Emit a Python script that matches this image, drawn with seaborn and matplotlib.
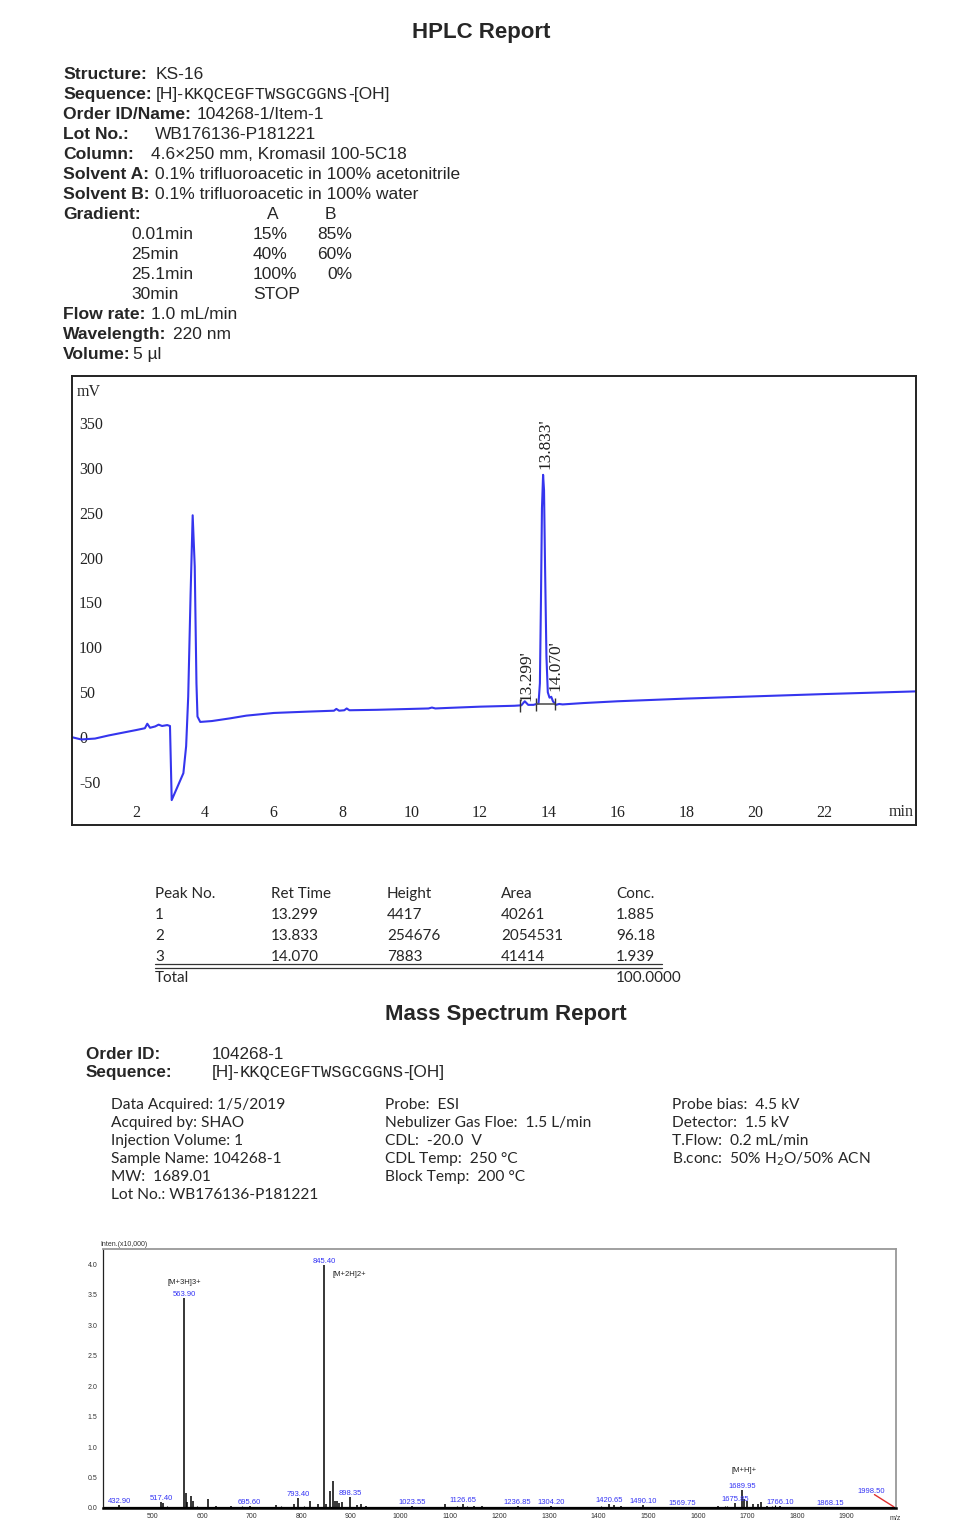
import numpy as np
import pandas as pd
import seaborn as sns
import matplotlib.pyplot as plt
from matplotlib.lines import Line2D
from matplotlib.ticker import MultipleLocator

W, H = 960, 1522

# ---- HPLC trace (min, mV)
chrom_time = [0.13, 0.40, 0.80, 1.20, 1.60, 2.00, 2.25, 2.32, 2.40, 2.55, 2.65, 2.75, 2.90, 2.98,
              3.03, 3.20, 3.37, 3.45, 3.51, 3.58, 3.64, 3.70, 3.75, 3.78, 3.86, 4.20, 4.73, 5.20,
              6.00, 7.00, 7.75, 7.82, 7.90, 8.05, 8.12, 8.20, 9.00, 10.00, 10.50, 10.60, 10.70,
              11.00, 12.00, 13.00, 13.20, 13.30, 13.40, 13.55, 13.70, 13.74, 13.77, 13.80, 13.833,
              13.86, 13.89, 13.93, 13.97, 14.02, 14.07, 14.12, 14.20, 14.30, 14.40, 15.00, 16.00,
              18.00, 20.00, 22.00, 24.68]
chrom_mv = [0.0, -2.5, -1.5, 2.0, 5.0, 8.0, 10.0, 15.0, 10.5, 12.0, 14.0, 12.5, 13.5, 12.5,
            -70.0, -55.0, -40.0, -10.0, 45.0, 160.0, 247.0, 190.0, 60.0, 23.0, 17.0, 18.0, 21.0, 24.0,
            27.0, 28.5, 29.5, 31.5, 29.5, 30.0, 32.0, 30.0, 30.5, 31.5, 32.0, 33.0, 32.0,
            32.5, 34.0, 35.0, 35.5, 40.0, 36.0, 36.0, 37.5, 60.0, 150.0, 255.0, 292.0,
            275.0, 190.0, 90.0, 50.0, 44.0, 45.0, 40.0, 36.0, 37.0, 36.5, 38.0, 40.0,
            43.0, 45.5, 48.0, 51.0]

peak_no = ["1", "2", "3"]
peak_rt = ["13.299", "13.833", "14.070"]
peak_height = ["4417", "254676", "7883"]
peak_area = ["40261", "2054531", "41414"]
peak_conc = ["1.885", "96.18", "1.939"]
total_conc = "100.0000"
peak_bounds = [13.15, 13.62, 14.18]

# ---- mass spectrum sticks (m/z, intensity x10,000)
ms_mz = [432.90, 517.40, 521.0, 563.90, 566.5, 569.0, 578.5, 581.0, 611.0, 628.0, 659.0, 695.60,
         749.0, 786.0, 793.40, 818.0, 833.0, 845.40, 849.0, 857.0, 864.5, 868.0, 872.0, 876.0,
         883.0, 898.35, 912.0, 920.0, 930.0, 1023.55, 1090.0, 1126.65, 1148.0, 1165.0, 1236.85,
         1304.20, 1420.65, 1432.0, 1445.0, 1490.10, 1569.75, 1640.0, 1675.85, 1689.95, 1693.0,
         1700.0, 1712.0, 1722.0, 1728.0, 1740.0, 1766.10, 1868.15, 1998.50]
ms_int = [0.05, 0.10, 0.08, 3.45, 0.24, 0.10, 0.20, 0.12, 0.14, 0.04, 0.04, 0.03,
          0.05, 0.06, 0.16, 0.12, 0.07, 3.98, 0.06, 0.28, 0.44, 0.12, 0.12, 0.08,
          0.10, 0.18, 0.05, 0.06, 0.04, 0.04, 0.06, 0.06, 0.04, 0.03, 0.03,
          0.03, 0.07, 0.05, 0.04, 0.05, 0.02, 0.04, 0.08, 0.30, 0.15,
          0.12, 0.06, 0.07, 0.10, 0.04, 0.04, 0.02, 0.02]
noise_mz = [410, 425, 445, 458, 470, 485, 498, 508, 530, 540, 550, 590, 600, 640, 670, 680, 710,
            725, 760, 775, 805, 940, 955, 970, 985, 1000, 1010, 1040, 1055, 1070, 1105, 1115,
            1135, 1180, 1195, 1210, 1250, 1265, 1280, 1320, 1340, 1360, 1375, 1390, 1405, 1460,
            1475, 1510, 1525, 1540, 1555, 1585, 1600, 1615, 1625, 1655, 1660, 1750, 1755, 1780,
            1795, 1810, 1825, 1840, 1855, 1880, 1895, 1910, 1925, 1940, 1955, 1970, 1985]
noise_int = [0.02, 0.015, 0.02, 0.015, 0.02, 0.015, 0.02, 0.015, 0.03, 0.02, 0.02, 0.03, 0.02,
             0.02, 0.02, 0.03, 0.02, 0.02, 0.03, 0.02, 0.03, 0.02, 0.02, 0.015, 0.02, 0.015,
             0.02, 0.015, 0.02, 0.02, 0.02, 0.03, 0.03, 0.02, 0.02, 0.015, 0.02, 0.015, 0.02,
             0.02, 0.015, 0.02, 0.02, 0.015, 0.03, 0.02, 0.02, 0.02, 0.015, 0.02, 0.015, 0.02,
             0.015, 0.02, 0.02, 0.03, 0.04, 0.03, 0.05, 0.02, 0.02, 0.015, 0.02, 0.015, 0.02,
             0.015, 0.02, 0.015, 0.02, 0.015, 0.02, 0.015, 0.02]
ms_labels = [432.90, 517.40, 563.90, 695.60, 793.40, 845.40, 898.35, 1023.55, 1126.65, 1236.85,
             1304.20, 1420.65, 1490.10, 1569.75, 1675.85, 1689.95, 1766.10, 1868.15, 1998.50]
ions = ["[M+3H]3+", "[M+2H]2+", "[M+H]+"]
ion_mz = [563.90, 845.40, 1689.95]

sns.set_style("white")
plt.rcParams["font.family"] = ["Liberation Sans", "DejaVu Sans"]
plt.rcParams["axes.unicode_minus"] = False

fig = plt.figure(figsize=(W / 100, H / 100), dpi=100)


def fx(x):
    return x / W


def fy(y):
    return 1 - y / H


def put(x, y, s, **kw):
    kw.setdefault("va", "baseline")
    return fig.text(fx(x), fy(y), s, **kw)


def put_run(x, y, parts):
    r = fig.canvas.get_renderer()
    for s, kw in parts:
        t = put(x, y, s, **kw)
        x += t.get_window_extent(renderer=r).width


BOLD = dict(fontsize=12.6, fontweight="bold")
REG = dict(fontsize=12.5)
SEQ = dict(fontsize=12.3, family="Liberation Mono")

# ---- HPLC header
put(481, 38, "HPLC Report", fontsize=16, fontweight="bold", ha="center")
rows = [("Structure:", 156, "KS-16"), ("Sequence:", None, None),
        ("Order ID/Name:", 197, "104268-1/Item-1"), ("Lot No.:", 155, "WB176136-P181221"),
        ("Column:", 151, "4.6×250 mm, Kromasil 100-5C18"),
        ("Solvent A:", 155, "0.1% trifluoroacetic in 100% acetonitrile"),
        ("Solvent B:", 155, "0.1% trifluoroacetic in 100% water"), ("Gradient:", None, "")]
for i, (lab, vx, val) in enumerate(rows):
    yb = 79 + 20 * i
    put(63, yb, lab, **BOLD)
    if vx is not None:
        put(vx, yb, val, **REG)
put_run(156, 99, [("[H]-", REG), ("KKQCEGFTWSGCGGNS", SEQ), ("-[OH]", REG)])
put(273, 219, "A", ha="center", **REG)
put(330, 219, "B", ha="center", **REG)
grad = [("0.01min", "15%", "85%"), ("25min", "40%", "60%"), ("25.1min", "100%", "0%"),
        ("30min", "STOP", "")]
for i, (t, a, b) in enumerate(grad):
    yb = 239 + 20 * i
    put(131, yb, t, **REG)
    put(253, yb, a, **REG)
    put(352, yb, b, ha="right", **REG)
for i, (lab, vx, val) in enumerate([("Flow rate:", 151, "1.0 mL/min"),
                                    ("Wavelength:", 173, "220 nm"), ("Volume:", 133, "5 µl")]):
    yb = 319 + 20 * i
    put(63, yb, lab, **BOLD)
    put(vx, yb, val, **REG)

# ---- chromatogram
ax = fig.add_axes([72 / W, 1 - 825 / H, 844 / W, 449 / H])
chrom = pd.DataFrame({"time": chrom_time, "mV": chrom_mv})
sns.lineplot(data=chrom, x="time", y="mV", ax=ax, color="#3535ee", lw=1.5,
             estimator=None, sort=False)
ax.set_xlim(0.13, 24.68)
ax.set_ylim(-97.7, 402)
ax.set_xlabel("")
ax.set_ylabel("")
ax.set_xticks(np.arange(2, 23, 2))
ax.set_yticks(np.arange(-50, 351, 50))
ax.tick_params(axis="both", direction="in", length=4, width=1, colors="#222222",
               labelsize=11.5)
ax.tick_params(axis="y", pad=-5)
ax.tick_params(axis="x", pad=-3)
for t in ax.get_yticklabels():
    t.set_ha("left")
    t.set_family("Liberation Serif")
for t in ax.get_xticklabels():
    t.set_va("bottom")
    t.set_family("Liberation Serif")
for s in ax.spines.values():
    s.set_color("#222222")
    s.set_linewidth(1.4)
ax.text(0.005, 0.965, "mV", transform=ax.transAxes, family="Liberation Serif", fontsize=11.5,
        va="center")
ax.text(0.997, 0.03, "min", transform=ax.transAxes, family="Liberation Serif", fontsize=11.5,
        ha="right", va="center")

rt_vals = [float(v) for v in peak_rt]
apex = np.interp(rt_vals, chrom_time, chrom_mv)
for rt, ap, dx, dy in zip(peak_rt, apex, [0.06, 0.08, 0.13], [0, 6, 6]):
    ax.text(float(rt) + dx, ap + dy, rt + "'", rotation=90, ha="center", va="bottom",
            family="Liberation Serif", fontsize=12.5, color="#222222")
base = np.interp(peak_bounds, chrom_time, chrom_mv)
ax.vlines(peak_bounds, base - 7, base + 7, color="#333333", lw=1)
ax.hlines(base[1], peak_bounds[1], peak_bounds[2], color="#555555", lw=1.2)

# ---- peak table
TAB = dict(fontsize=11, family="Lato")
cols_x = [155, 271, 387, 501, 616]
for x, h in zip(cols_x, ["Peak No.", "Ret Time", "Height", "Area", "Conc."]):
    put(x, 898, h, **TAB)
for i, row in enumerate(zip(peak_no, peak_rt, peak_height, peak_area, peak_conc)):
    for x, v in zip(cols_x, row):
        put(x, 919 + 21 * i, v, **TAB)
put(155, 982, "Total", **TAB)
put(616, 982, total_conc, **TAB)
for yl in (964.5, 967.5):
    fig.add_artist(Line2D([fx(155), fx(662)], [fy(yl), fy(yl)], color="#333333", lw=0.9))

# ---- mass spectrum header
put(506, 1020, "Mass Spectrum Report", fontsize=16, fontweight="bold", ha="center")
OB = dict(fontsize=12.3, fontweight="bold")
OR = dict(fontsize=12.3)
put(86, 1059, "Order ID:", **OB)
put(212, 1059, "104268-1", **OR)
put(86, 1077, "Sequence:", **OB)
put_run(212, 1077, [("[H]-", OR), ("KKQCEGFTWSGCGGNS", SEQ), ("-[OH]", OR)])
INFO = dict(fontsize=11.2, family="Lato")
info_cols = {
    111: ["Data Acquired: 1/5/2019", "Acquired by: SHAO", "Injection Volume: 1",
          "Sample Name: 104268-1", "MW:  1689.01", "Lot No.: WB176136-P181221"],
    385: ["Probe:  ESI", "Nebulizer Gas Floe:  1.5 L/min", "CDL:  -20.0  V",
          "CDL Temp:  250 °C", "Block Temp:  200 °C"],
    672: ["Probe bias:  4.5 kV", "Detector:  1.5 kV", "T.Flow:  0.2 mL/min",
          "B.conc:  50% H$_2$O/50% ACN"],
}
for x, lines in info_cols.items():
    for i, s in enumerate(lines):
        put(x, 1109 + 18 * i, s, **INFO)

# ---- mass spectrum
ax2 = fig.add_axes([103 / W, 1 - 1508 / H, 793 / W, 259 / H])
ax2.vlines(noise_mz, 0, noise_int, color="black", lw=0.8)
ax2.vlines(ms_mz, 0, ms_int, color="black", lw=1.1)
sns.lineplot(x=[400, 2000], y=[0, 0], ax=ax2, color="black", lw=1.6)
ax2.set_xlim(400, 2000)
ax2.set_ylim(0, 4.25)
ax2.xaxis.set_major_locator(MultipleLocator(100))
ax2.xaxis.set_minor_locator(MultipleLocator(20))
ax2.yaxis.set_major_locator(MultipleLocator(0.5))
ax2.yaxis.set_minor_locator(MultipleLocator(0.1))
ax2.set_xticks(np.arange(500, 1901, 100))
ax2.yaxis.set_major_formatter(lambda v, p: f"{v:.1f}")
ax2.tick_params(axis="x", which="major", direction="inout", length=5, width=0.9,
                labelsize=5, pad=1, colors="#333333")
ax2.tick_params(axis="x", which="minor", direction="inout", length=3, width=0.7)
ax2.tick_params(axis="y", which="major", direction="out", length=3, width=0.8,
                labelsize=5, pad=1, colors="#333333")
ax2.tick_params(axis="y", which="minor", direction="out", length=1.5, width=0.6)
ax2.spines["bottom"].set_linewidth(1.8)
ax2.spines["bottom"].set_color("black")
ax2.spines["left"].set_color("#222222")
ax2.spines["left"].set_linewidth(0.9)
for k in ("top", "right"):
    ax2.spines[k].set_color("#999999")
    ax2.spines[k].set_linewidth(1.3)

LBL = dict(fontsize=5.5, family=["Liberation Sans Narrow", "Liberation Sans"], color="#3434f5")
heights = dict(zip(ms_mz, ms_int))
for m in ms_labels:
    h = heights[m]
    if m == 1998.50:
        ax2.text(m - 48, h + 0.2, f"{m:.2f}", ha="center", va="bottom", **LBL)
        ax2.plot([m - 42, m - 3], [h + 0.2, 0.02], color="#e03030", lw=1)
    else:
        ax2.text(m, h, f"{m:.2f}", ha="center", va="bottom", **LBL)
ION = dict(fontsize=5.5, family=["Liberation Sans Narrow", "Liberation Sans"], color="#222222")
ax2.text(ion_mz[0], heights[ion_mz[0]] + 0.19, ions[0], ha="center", va="bottom", **ION)
ax2.text(ion_mz[1] + 18, heights[ion_mz[1]] - 0.15, ions[1], ha="left", va="center", **ION)
ax2.text(ion_mz[2] + 4, heights[ion_mz[2]] + 0.32, ions[2], ha="center", va="center", **ION)

put(100, 1246, "Inten.(x10,000)", fontsize=5, color="#333333")
put(890, 1520, "m/z", fontsize=5, color="#333333")

fig.savefig("out.png", dpi=100)
